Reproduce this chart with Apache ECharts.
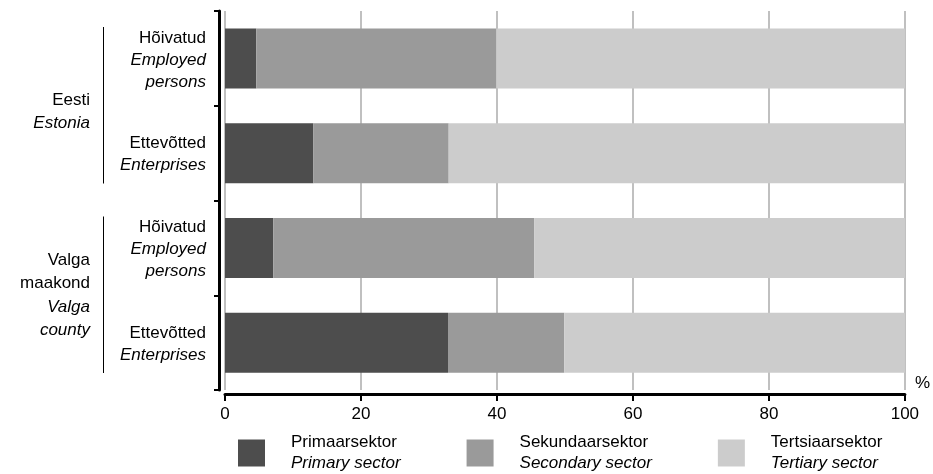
<!DOCTYPE html>
<html>
<head>
<meta charset="utf-8">
<script src="https://cdn.jsdelivr.net/npm/echarts@6/dist/echarts.min.js"></script>
<style>html,body{margin:0;padding:0;background:#fff;}#c{width:933px;height:474px;}</style>
</head>
<body>
<div id="c"></div>
<script>
// ---- data ----
const rows = ['Eesti-Hoivatud', 'Eesti-Ettevotted', 'Valga-Hoivatud', 'Valga-Ettevotted'];
const rowLabelEt = ['Hõivatud', 'Ettevõtted', 'Hõivatud', 'Ettevõtted'];
const rowLabelEn = ['Employed\npersons', 'Enterprises', 'Employed\npersons', 'Enterprises'];
const groups = ['Eesti', 'Valga'];
const groupLabelEt = ['Eesti', 'Valga\nmaakond'];
const groupLabelEn = ['Estonia', 'Valga\ncounty'];
const seriesNames = ['Primaarsektor', 'Sekundaarsektor', 'Tertsiaarsektor'];
const seriesNamesEn = ['Primary sector', 'Secondary sector', 'Tertiary sector'];
const primary = [4.6, 13.0, 7.1, 32.8];
const secondary = [35.3, 19.9, 38.4, 17.1];
const tertiary = [60.1, 67.1, 54.5, 50.1];
const xTicks = [0, 20, 40, 60, 80, 100];
const colors = ['#4d4d4d', '#9a9a9a', '#cccccc'];

const FONT = 'Liberation Sans, Arial, sans-serif';
const FS = 17;

function styled(et, en, n, i) {
  const a = et.split('\n').map(s => '{' + n + '|' + s + '}');
  const b = en.split('\n').map(s => '{' + i + '|' + s + '}');
  return a.concat(b).join('\n');
}
function mk(lh, italic) {
  const s = { fontSize: FS, lineHeight: lh, fontFamily: FONT, color: '#000' };
  if (italic) s.fontStyle = 'italic';
  return s;
}

const chart = echarts.init(document.getElementById('c'));
const seriesData = [primary, secondary, tertiary];

const option = {
  animation: false,
  backgroundColor: '#fff',
  grid: { left: 225, right: 28, top: 11, bottom: 84, containLabel: false },
  xAxis: {
    type: 'value', min: xTicks[0], max: xTicks[xTicks.length - 1], interval: 20,
    position: 'bottom', offset: 4,
    name: '%', nameLocation: 'end', nameGap: 10,
    nameTextStyle: { fontSize: FS, fontFamily: FONT, color: '#000', align: 'left', verticalAlign: 'bottom', padding: [0, 0, 2, 0] },
    axisLine: { show: true, onZero: false, lineStyle: { color: '#000', width: 3 } },
    axisTick: { show: true, length: 7, lineStyle: { color: '#000', width: 2 } },
    axisLabel: { fontSize: FS, fontFamily: FONT, color: '#000', margin: 12 },
    splitLine: { show: true, lineStyle: { color: '#c0c0c0', width: 2 } }
  },
  yAxis: [
    {
      type: 'category', data: rows, inverse: true, position: 'left', offset: 6,
      axisLine: { show: true, onZero: false, lineStyle: { color: '#000', width: 3 } },
      axisTick: { show: true, length: 5, lineStyle: { color: '#000', width: 2 } },
      axisLabel: {
        margin: 13, align: 'right',
        formatter: (v, idx) => styled(rowLabelEt[idx], rowLabelEn[idx], 'n', 'i'),
        rich: { n: mk(22, false), i: mk(22, true) },
        padding: [3, 0, 0, 0]
      },
      splitLine: { show: false }
    },
    {
      type: 'category', data: groups, inverse: true, position: 'left', offset: 122,
      axisLine: { show: false, onZero: false }, axisTick: { show: false },
      axisLabel: {
        margin: 13, align: 'right',
        formatter: (v, idx) => (idx === 0 ? '{sp| }\n' : '') +
          styled(groupLabelEt[idx], groupLabelEn[idx], 'n', 'i'),
        rich: { sp: { fontSize: 8, lineHeight: 12 }, n: mk(23.5, false), i: mk(23.5, true) }
      },
      splitLine: { show: false }
    }
  ],
  legend: {
    left: 238, top: 434, orient: 'horizontal', padding: 0,
    itemWidth: 27, itemHeight: 27, itemGap: 66,
    icon: 'rect',
    data: seriesNames,
    formatter: name => {
      const i = seriesNames.indexOf(name);
      return '{n|' + name + '}\n{i|' + seriesNamesEn[i] + '}';
    },
    textStyle: {
      padding: [0, 0, 0, 21],
      rich: { n: mk(21, false), i: mk(21, true) }
    }
  },
  series: seriesNames.map((n, k) => ({
    name: n, type: 'bar', stack: 'total', barWidth: 60,
    xAxisIndex: 0, yAxisIndex: 0,
    itemStyle: { color: colors[k] },
    data: seriesData[k]
  }))
};
chart.setOption(option);

// group separator lines, positioned through the axis scale
const c0 = chart.convertToPixel({ yAxisIndex: 1 }, groups[0]);
const c1 = chart.convertToPixel({ yAxisIndex: 1 }, groups[1]);
const band = Math.abs(c1 - c0);
const gx = chart.convertToPixel({ xAxisIndex: 0 }, 0) - 122 + 0.5;
const lines = groups.map(g => {
  const cy = chart.convertToPixel({ yAxisIndex: 1 }, g);
  return {
    type: 'line',
    shape: { x1: gx, y1: cy - band / 2 + 16, x2: gx, y2: cy + band / 2 - 17 },
    style: { stroke: '#000', lineWidth: 1 }
  };
});
chart.setOption({ graphic: lines });
</script>
</body>
</html>
